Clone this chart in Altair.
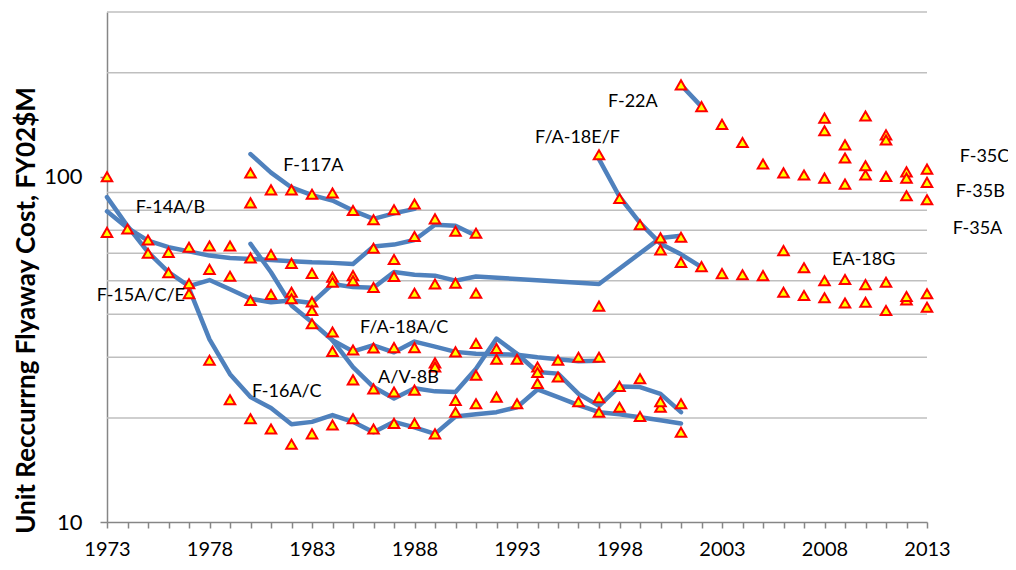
import altair as alt
import pandas as pd

# ---------------- data ----------------
# Trend / production lines per program
line_f14_years = [1973, 1974, 1975, 1976, 1977, 1978, 1979, 1980, 1981, 1982, 1983, 1984, 1985, 1986, 1987, 1988, 1989, 1990, 1991]
line_f14_vals = [79.4, 71.1, 65.3, 62.5, 60.8, 59.1, 58.2, 57.8, 57.4, 56.9, 56.5, 56.3, 55.9, 62.8, 63.6, 65.6, 72.6, 72.1, 67.5]

line_f15_years = [1973, 1974, 1975, 1976, 1977, 1978, 1979, 1980, 1981, 1982, 1983, 1984, 1985, 1986, 1987, 1988, 1989, 1990, 1991, 1997, 2000, 2001]
line_f15_vals = [87.3, 72.0, 60.5, 52.9, 48.2, 50.2, 47.2, 44.3, 43.3, 43.8, 43.1, 48.9, 47.9, 47.7, 53.0, 52.0, 51.7, 50.0, 51.4, 48.9, 66.5, 67.5]

line_f117_years = [1980, 1981, 1982, 1983, 1984, 1985, 1986, 1987, 1988]
line_f117_vals = [116.3, 102.8, 93.1, 88.5, 85.3, 79.8, 75.5, 78.3, 80.7]

line_f16_years = [1977, 1978, 1979, 1980, 1981, 1982, 1983, 1984, 1985, 1986, 1987, 1988, 1989, 1990, 1991, 1992, 1993, 1994, 1995, 1996, 1997, 1998, 1999, 2000, 2001]
line_f16_vals = [47.5, 33.8, 26.8, 23.0, 21.4, 19.2, 19.5, 20.4, 19.5, 18.2, 19.5, 18.8, 18.0, 20.2, 20.5, 20.8, 21.5, 24.2, 23.0, 21.8, 20.8, 20.5, 20.1, 19.7, 19.3]

line_fa18ac_years = [1980, 1981, 1982, 1983, 1984, 1985, 1986, 1987, 1988, 1989, 1990, 1991, 1992, 1993, 1994, 1995, 1996, 1997]
line_fa18ac_vals = [63.9, 52.9, 42.4, 37.9, 33.6, 31.2, 32.5, 31.0, 33.3, 32.2, 31.1, 30.7, 30.6, 30.5, 30.0, 29.6, 29.2, 29.3]

line_av8b_years = [1984, 1985, 1986, 1987, 1988, 1989, 1990, 1991, 1992, 1993, 1994, 1995, 1996, 1997, 1998, 1999, 2000, 2001]
line_av8b_vals = [33.6, 28.1, 24.6, 22.8, 24.4, 23.9, 23.8, 27.8, 34.0, 30.7, 27.2, 26.9, 23.5, 21.7, 24.7, 24.6, 23.5, 20.8]

line_fa18ef_years = [1997, 1998, 1999, 2000, 2001, 2002]
line_fa18ef_vals = [112.5, 87.5, 73.5, 64.0, 59.6, 54.7]

line_f22_years = [2001, 2002]
line_f22_vals = [184.5, 159.6]

# Individual annual buys (triangles)
pts_f14_years = [1973, 1974, 1975, 1976, 1977, 1978, 1979, 1980, 1981, 1982, 1983, 1984, 1985, 1986, 1987, 1988, 1989, 1990, 1991]
pts_f14_vals = [100, 70.6, 65.6, 60.4, 62.5, 63.0, 63.0, 58.2, 59.5, 56.1, 52.5, 51.2, 51.7, 62.1, 57.6, 67.1, 75.5, 69.5, 68.6]

pts_f15_years = [1973, 1975, 1976, 1977, 1978, 1979, 1980, 1981, 1982, 1982, 1983, 1983, 1984, 1985, 1986, 1987, 1988, 1989, 1990, 1991, 1997, 2000, 2001]
pts_f15_vals = [69.0, 60.0, 52.7, 49.0, 53.9, 51.5, 43.8, 45.6, 46.3, 44.3, 43.4, 41.0, 49.5, 50.0, 47.8, 51.4, 46.0, 48.9, 49.2, 46.0, 42.2, 66.5, 66.8]

pts_f117_years = [1980, 1980, 1981, 1982, 1983, 1984, 1985, 1986, 1987, 1988]
pts_f117_vals = [102.5, 84.0, 91.6, 91.6, 89.0, 89.7, 79.8, 75.1, 80.2, 83.4]

pts_f16_years = [1977, 1978, 1979, 1980, 1981, 1982, 1983, 1984, 1985, 1986, 1987, 1988, 1989, 1990, 1991, 1992, 1993, 1994, 1996, 1997, 1998, 1999, 2000, 2001]
pts_f16_vals = [45.8, 29.4, 22.6, 19.9, 18.6, 16.8, 18.0, 19.1, 19.9, 18.6, 19.3, 19.3, 18.0, 20.8, 22.0, 23.0, 22.0, 25.2, 22.3, 20.8, 21.5, 20.2, 21.5, 18.2]

pts_fa18ac_years = [1983, 1984, 1985, 1986, 1987, 1988, 1989, 1990, 1991, 1992, 1993, 1994, 1995, 1996, 1997]
pts_fa18ac_vals = [37.5, 35.5, 31.5, 31.9, 32.0, 32.0, 28.9, 31.1, 32.9, 31.8, 29.6, 28.1, 29.4, 30.0, 30.0]

pts_av8b_years = [1984, 1985, 1986, 1987, 1988, 1989, 1990, 1991, 1992, 1994, 1995, 1997, 1998, 1999, 2000, 2001]
pts_av8b_vals = [31.2, 25.8, 24.3, 23.8, 24.1, 28.1, 22.5, 26.6, 29.6, 27.1, 26.3, 22.9, 24.7, 26.0, 22.3, 22.0]

pts_fa18ef_years = [1997, 1998, 1999, 2000, 2001, 2002, 2003, 2004, 2005, 2006, 2007, 2008, 2009, 2010, 2011, 2012, 2013]
pts_fa18ef_vals = [115.8, 86.5, 72.6, 61.4, 56.5, 54.9, 52.4, 52.0, 51.7, 46.3, 45.3, 44.6, 43.1, 43.3, 41.0, 44.0, 41.9]

pts_ea18g_years = [2006, 2007, 2008, 2009, 2010, 2011, 2012, 2013]
pts_ea18g_vals = [61.1, 54.5, 50.0, 50.4, 48.7, 49.5, 45.0, 45.8]

pts_f22_years = [2001, 2002, 2003, 2004, 2005, 2006, 2007, 2008, 2009, 2010, 2011]
pts_f22_vals = [184.5, 159.6, 141.8, 125.6, 108.9, 102.6, 101.2, 99.1, 95.2, 101.2, 100.2]

pts_f35_years = [2008, 2008, 2009, 2009, 2010, 2010, 2011, 2011, 2012, 2012, 2012, 2013, 2013, 2013]
pts_f35_vals = [147.8, 135.9, 123.7, 113.3, 150.0, 107.6, 132.2, 127.7, 103.3, 99.1, 88.1, 105.2, 96.3, 85.8]

# Program labels
label_texts = ["F-117A", "F-14A/B", "F-15A/C/E", "F-16A/C", "F/A-18A/C", "A/V-8B",
               "F/A-18E/F", "F-22A", "EA-18G", "F-35C", "F-35B", "F-35A"]
label_years = [1981.6, 1974.4, 1972.5, 1980.07, 1985.34, 1986.22,
               1993.88, 1997.44, 2008.37, 2014.6, 2014.4, 2014.25]
label_vals = [107.6, 81.3, 45.0, 23.8, 36.4, 26.2,
              129.6, 164.7, 57.2, 114.2, 90.5, 70.7]

grid_vals = [20, 30, 40, 50, 60, 70, 80, 90, 200, 300]
y_tick_vals = [10, 100]
x_tick_years = list(range(1973, 2014))

# ---------------- tables ----------------
def table(pairs):
    rows = []
    for name, ys, vs in pairs:
        for y, v in zip(ys, vs):
            rows.append({"program": name, "year": y, "value": v})
    return pd.DataFrame(rows)

lines_df = table([
    ("F-14A/B", line_f14_years, line_f14_vals),
    ("F-15A/C/E", line_f15_years, line_f15_vals),
    ("F-117A", line_f117_years, line_f117_vals),
    ("F-16A/C", line_f16_years, line_f16_vals),
    ("F/A-18A/C", line_fa18ac_years, line_fa18ac_vals),
    ("A/V-8B", line_av8b_years, line_av8b_vals),
    ("F/A-18E/F", line_fa18ef_years, line_fa18ef_vals),
    ("F-22A", line_f22_years, line_f22_vals),
])

pts_df = table([
    ("F-14A/B", pts_f14_years, pts_f14_vals),
    ("F-15A/C/E", pts_f15_years, pts_f15_vals),
    ("F-117A", pts_f117_years, pts_f117_vals),
    ("F-16A/C", pts_f16_years, pts_f16_vals),
    ("F/A-18A/C", pts_fa18ac_years, pts_fa18ac_vals),
    ("A/V-8B", pts_av8b_years, pts_av8b_vals),
    ("F/A-18E/F", pts_fa18ef_years, pts_fa18ef_vals),
    ("EA-18G", pts_ea18g_years, pts_ea18g_vals),
    ("F-22A", pts_f22_years, pts_f22_vals),
    ("F-35", pts_f35_years, pts_f35_vals),
])

labels_df = pd.DataFrame({"label": label_texts, "year": label_years, "value": label_vals})
grid_df = pd.DataFrame({"value": grid_vals})

# ---------------- encodings ----------------
x_scale = alt.Scale(domain=[1973, 2013], nice=False, zero=False)
y_scale = alt.Scale(type="log", domain=[10, 300], nice=False)

x_axis = alt.Axis(
    values=x_tick_years, format="d",
    labelExpr="(datum.value - 1973) % 5 == 0 ? datum.label : ''",
    grid=False, domainColor="#868686", domainWidth=1.5,
    tickColor="#868686", tickWidth=1.5, tickSize=6,
    labelPadding=11, labelFont="Lato", labelFontSize=20, labelColor="#000000",
    labelOverlap=False, labelFlush=False,
)
y_axis = alt.Axis(
    values=y_tick_vals, format="d", grid=False,
    domainColor="#868686", domainWidth=1.5,
    tickColor="#868686", tickWidth=1.5, tickSize=7,
    labelPadding=18, labelFont="Lato", labelFontSize=22, labelColor="#000000",
    title="Unit Reccurrng Flyaway Cost, FY02$M",
    titleFont="Lato", titleFontSize=26, titleFontWeight="bold", titleColor="#000000",
    titleAngle=270, titleX=-81, titleY=298, titleAlign="center", titleBaseline="middle",
)

X = alt.X("year:Q", scale=x_scale, axis=x_axis, title=None)
Y = alt.Y("value:Q", scale=y_scale, axis=y_axis)

grid = alt.Chart(grid_df).mark_rule(color="#BFBFBF", strokeWidth=1.5).encode(y=Y)

lines = alt.Chart(lines_df).mark_line(
    color="#4F81BD", strokeWidth=4.5, strokeCap="round", strokeJoin="round"
).encode(x=X, y=Y, detail="program:N")

points = alt.Chart(pts_df).mark_point(
    shape="triangle-up", filled=True, fill="#FFFF00", stroke="#FF0000",
    strokeWidth=2, size=110, opacity=1, fillOpacity=1, strokeOpacity=1,
).encode(x=X, y=Y)

texts = alt.Chart(labels_df).mark_text(
    align="left", baseline="middle", font="Lato", fontSize=18, color="#000000"
).encode(x=X, y=Y, text="label:N")

chart = alt.layer(grid, lines, points, texts).properties(
    width=820, height=510,
    autosize=alt.AutoSizeParams(type="none"),
    padding={"left": 99, "top": 4, "right": 81, "bottom": 40},
    background="#FFFFFF",
).configure_view(strokeWidth=0)

chart.save("out.html", embed_options={"renderer": "svg", "actions": False})
